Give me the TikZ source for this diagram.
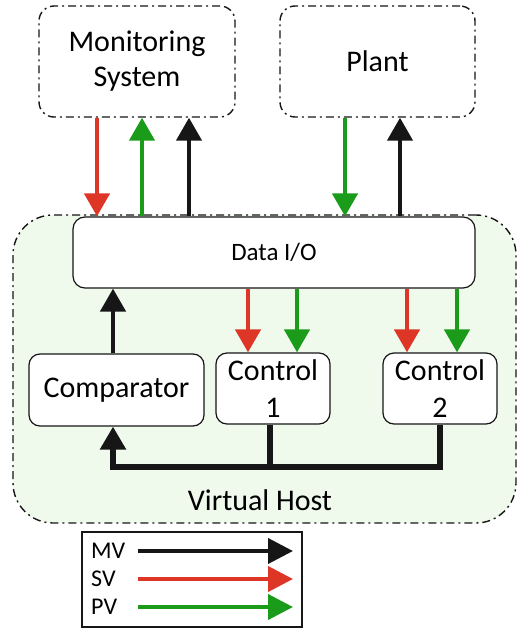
\documentclass[tikz,border=0pt]{standalone}
\usepackage{fontspec}
\setmainfont{Carlito}
\usetikzlibrary{arrows.meta, positioning, calc}
\definecolor{linered}{HTML}{DD3526}
\definecolor{linegreen}{HTML}{1A9B1A}
\definecolor{lineblack}{HTML}{161616}
\definecolor{hostfill}{HTML}{EFF9EC}

\begin{document}
\begin{tikzpicture}[x=1pt, y=-1pt,
    dashbox/.style={draw=lineblack, line width=1.4pt,
                    dash pattern=on 8pt off 4pt on 2pt off 4pt,
                    rounded corners=15pt, fill=white, inner sep=0pt,
                    align=center, font=\fontsize{30}{35}\selectfont},
    block/.style={draw=lineblack, line width=1.2pt, rounded corners=11pt,
                  fill=white, inner sep=0pt, align=center,
                  font=\fontsize{30}{37}\selectfont},
    sig/.style={line width=4.5pt, line join=miter,
                -{Triangle[length=23pt, width=25pt]}},
    mv/.style={sig, draw=lineblack},
    sv/.style={sig, draw=linered},
    pv/.style={sig, draw=linegreen}]
  \useasboundingbox (0,0) rectangle (518,628);
  % virtual host and its blocks
  \node[dashbox, fill=hostfill, rounded corners=40pt,
        minimum width=503pt, minimum height=308pt] (host) at (264.5,369) {};
  \node[font=\fontsize{30}{35}\selectfont] (hostlab) at (260,500) {Virtual Host};
  \node[block, rounded corners=12pt, minimum width=402pt, minimum height=71pt,
        font=\fontsize{25}{30}\selectfont] (dio) at (274,252.5) {Data I/O};
  \node[block, minimum width=175pt, minimum height=72pt] (comp) at (116.5,390) {Comparator};
  \node[block, minimum width=114pt, minimum height=71pt] (ctrl1) at (273,388.5) {Control\\1};
  \node[block, minimum width=114pt, minimum height=71pt] (ctrl2) at (440,388.5) {Control\\2};
  % outside systems
  \node[dashbox, minimum width=196pt, minimum height=111pt] (mon) at (137,61.5) {Monitoring\\System};
  \node[dashbox, minimum width=195pt, minimum height=111pt] (plant) at (377.5,61.5) {Plant};

  % monitoring <-> data i/o
  \coordinate (m1) at ([xshift=-40pt]mon.south);
  \coordinate (m2) at ([xshift=5pt]mon.south);
  \coordinate (m3) at ([xshift=52pt]mon.south);
  \draw[sv] (m1) -- (m1 |- dio.north);
  \draw[pv] (m2 |- dio.north) -- (m2);
  \draw[mv] (m3 |- dio.north) -- (m3);
  % plant <-> data i/o
  \coordinate (p1) at ([xshift=-32.5pt]plant.south);
  \coordinate (p2) at ([xshift=22.5pt]plant.south);
  \draw[pv] (p1) -- (p1 |- dio.north);
  \draw[mv] (p2 |- dio.north) -- (p2);

  % data i/o -> controllers
  \coordinate (c1s) at ([xshift=-25pt]ctrl1.north);
  \coordinate (c1p) at ([xshift=24pt]ctrl1.north);
  \coordinate (c2s) at ([xshift=-33pt]ctrl2.north);
  \coordinate (c2p) at ([xshift=17pt]ctrl2.north);
  \foreach \c/\sty in {c1s/sv, c1p/pv, c2s/sv, c2p/pv}{%
    \draw[\sty] (\c |- dio.south) -- (\c);}
  % comparator -> data i/o
  \coordinate (cout) at ([xshift=-3.5pt]comp.north);
  \draw[mv] (cout) -- (cout |- dio.south);

  % controllers -> comparator
  \coordinate (bus) at (0,467);
  \coordinate (cin) at ([xshift=-3.5pt]comp.south);
  \draw[lineblack, line width=5.5pt] ([xshift=-3pt]ctrl1.south) -- ([xshift=-3pt]ctrl1.south |- bus);
  \draw[mv, line width=5.5pt] (ctrl2.south) |- (cin |- bus) -- (cin);

  % legend
  \node[draw=lineblack, line width=1.5pt, minimum width=220pt,
        minimum height=95pt] (legend) at (192,579.5) {};
  \foreach \lab/\sty/\y in {MV/mv/551, SV/sv/579, PV/pv/607}{%
    \node[anchor=west, inner sep=0pt, font=\fontsize{24}{24}\selectfont]
      (l\lab) at (91,\y) {\lab};
    \coordinate (s\lab) at (138,\y);
    \coordinate (e\lab) at (293,\y);
    \draw[\sty, line width=4pt, -{Triangle[length=25pt, width=25pt]}] (s\lab) -- (e\lab);}
\end{tikzpicture}
\end{document}
